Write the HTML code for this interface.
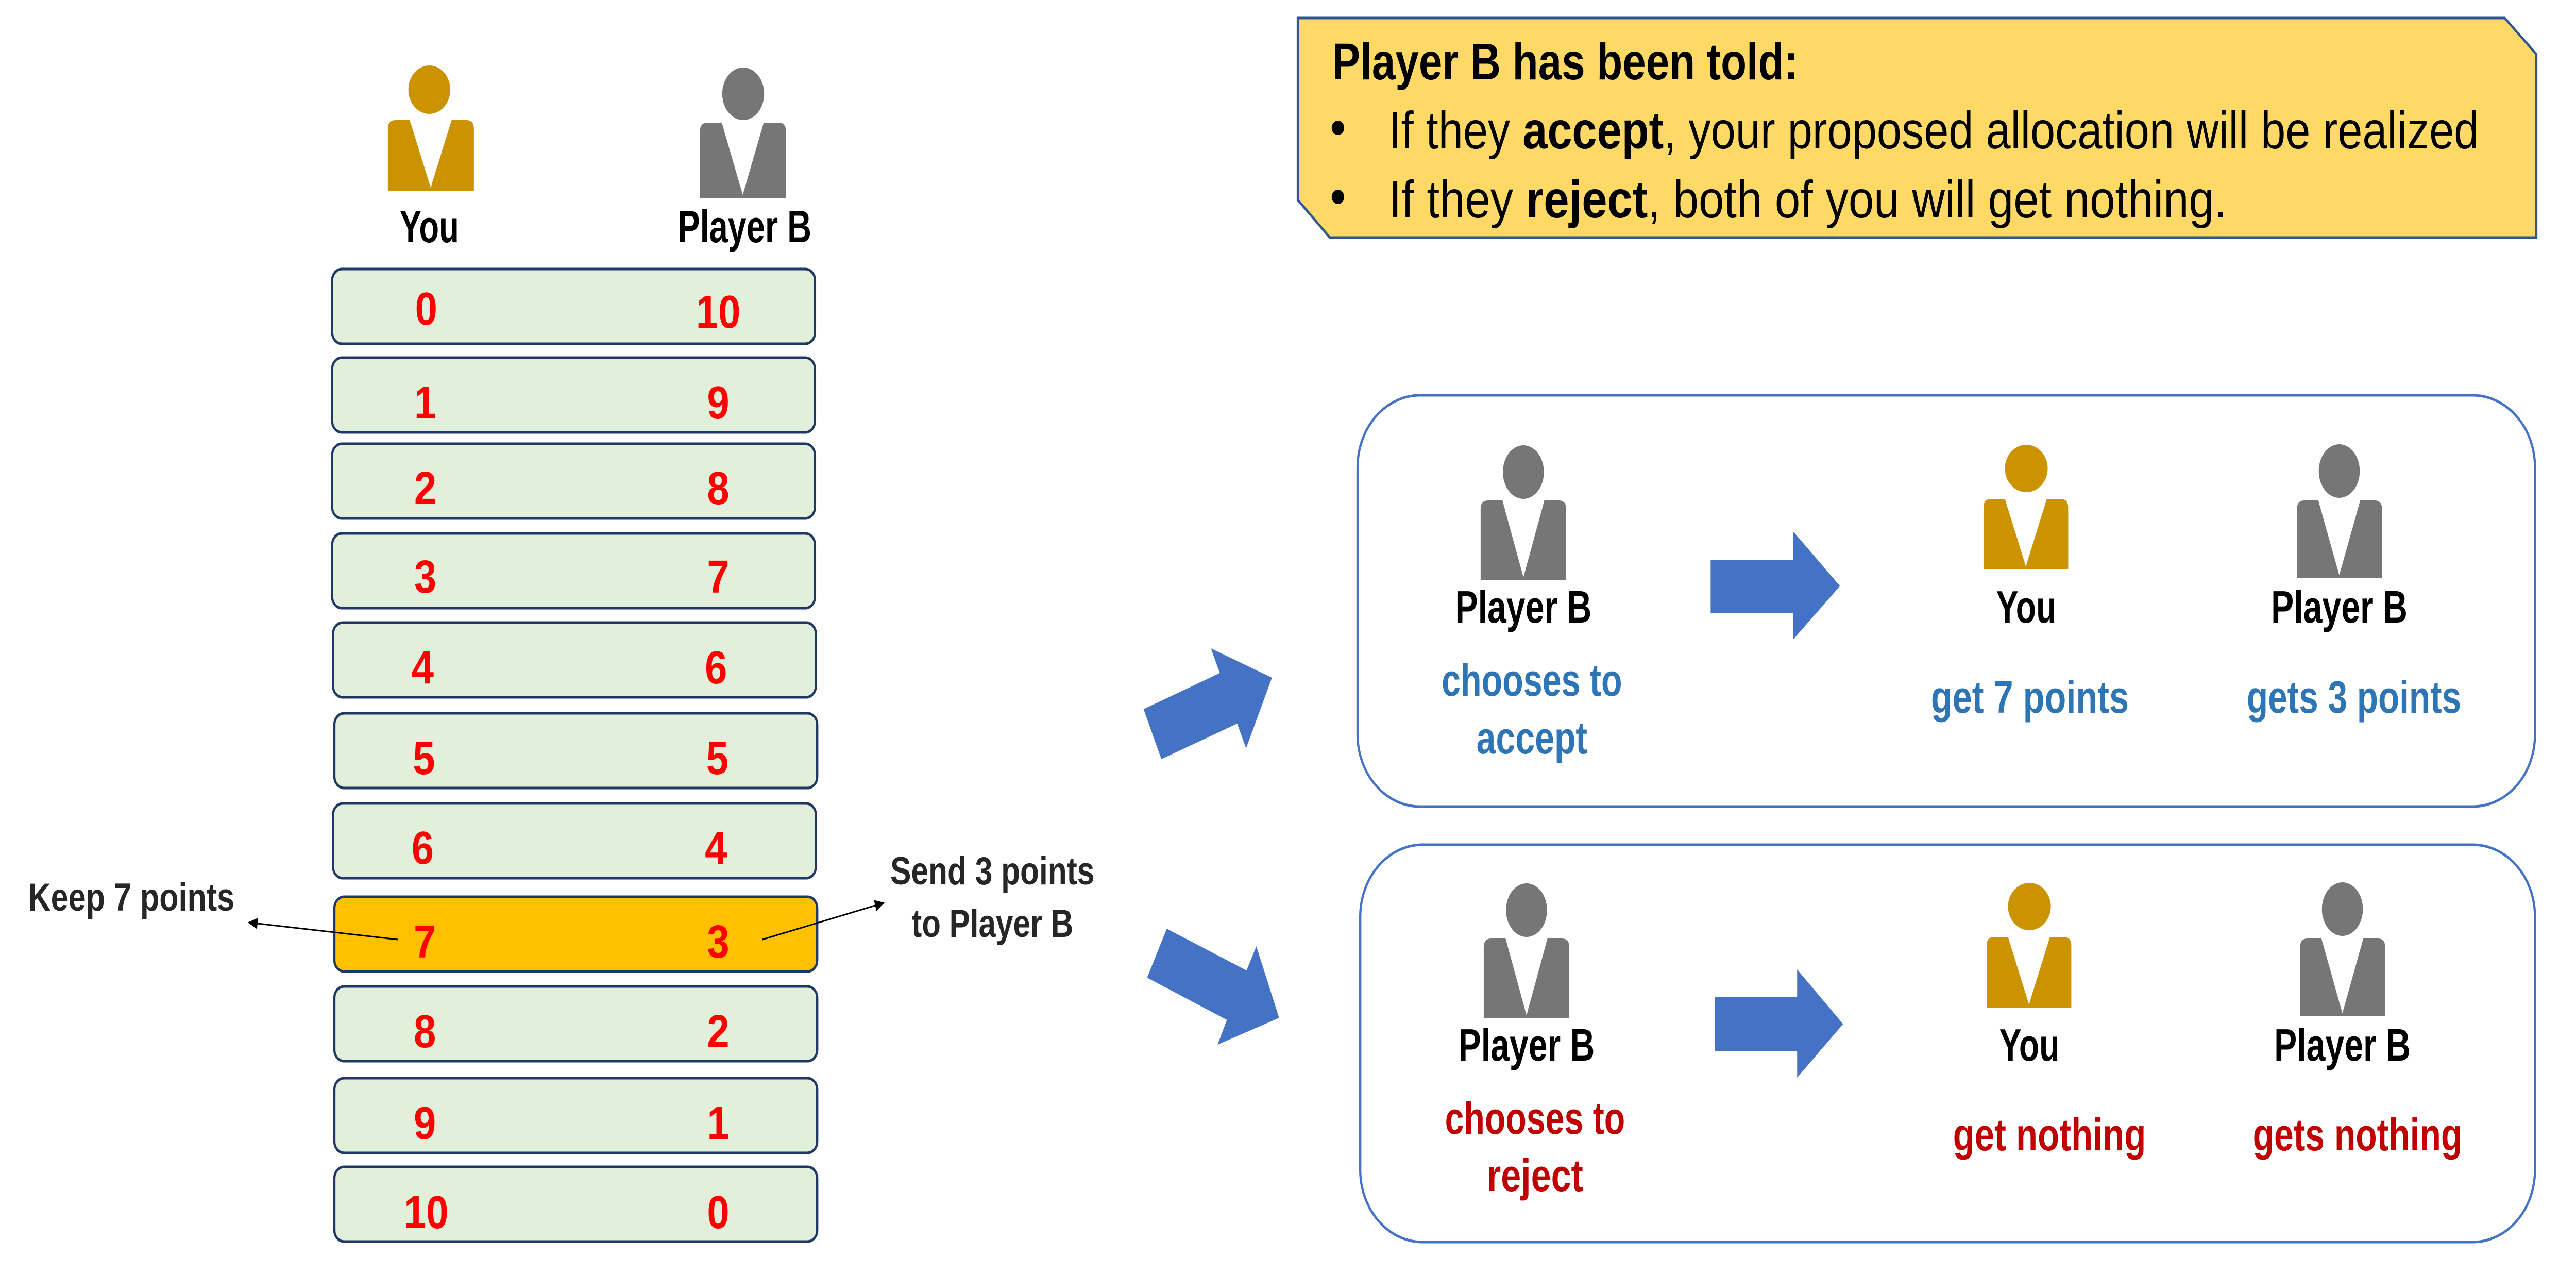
<!DOCTYPE html>
<html><head><meta charset="utf-8"><style>
html,body{margin:0;padding:0;background:#fff;width:100%;height:100%;overflow:hidden}
svg{display:block;position:absolute;left:0;top:0;width:100vw;height:100vh}
text{font-family:"Liberation Sans",sans-serif;font-weight:bold}
</style></head><body>
<svg viewBox="0 0 5778 2472" preserveAspectRatio="none" xmlns="http://www.w3.org/2000/svg">
<defs>
<marker id="ah" viewBox="0 0 10 10" refX="9" refY="5" markerWidth="22" markerHeight="22" markerUnits="userSpaceOnUse" orient="auto"><path d="M0,0 L10,5 L0,10 Z" fill="#000"/></marker>
</defs>
<rect width="5778" height="2472" fill="#fff"/>

<g fill="#CC9300">
<ellipse cx="963" cy="174" rx="47" ry="47"/>
<path d="M870,250 Q870,233 887,233 L919,233 L966,364 L1013,233 L1046,233 Q1063,233 1063,250 L1063,370 L870,370 Z"/>
</g>
<g fill="#767676">
<ellipse cx="1667" cy="182" rx="47" ry="51"/>
<path d="M1570,255 Q1570,238 1587,238 L1619,238 L1666,378 L1713,238 L1746,238 Q1763,238 1763,255 L1763,385 L1570,385 Z"/>
</g>
<text x="963" y="470" font-size="88" text-anchor="middle" textLength="133" lengthAdjust="spacingAndGlyphs">You</text>
<text x="1670" y="470" font-size="88" text-anchor="middle" textLength="300" lengthAdjust="spacingAndGlyphs">Player B</text>

<g stroke="#1F3864" stroke-width="5">
<rect x="745" y="522" width="1083" height="145" rx="22" fill="#E2EFDA"/>
<rect x="745" y="694" width="1083" height="145" rx="22" fill="#E2EFDA"/>
<rect x="745" y="861" width="1083" height="145" rx="22" fill="#E2EFDA"/>
<rect x="745" y="1035" width="1083" height="145" rx="22" fill="#E2EFDA"/>
<rect x="747" y="1208" width="1083" height="145" rx="22" fill="#E2EFDA"/>
<rect x="750" y="1384" width="1083" height="145" rx="22" fill="#E2EFDA"/>
<rect x="747" y="1559" width="1083" height="145" rx="22" fill="#E2EFDA"/>
<rect x="750" y="1740" width="1083" height="145" rx="22" fill="#FFC000"/>
<rect x="750" y="1914" width="1083" height="145" rx="22" fill="#E2EFDA"/>
<rect x="750" y="2092" width="1083" height="145" rx="22" fill="#E2EFDA"/>
<rect x="750" y="2264" width="1083" height="145" rx="22" fill="#E2EFDA"/>
</g>
<g fill="#FF0000" font-size="90" text-anchor="middle">
<text x="956" y="630">0</text><text x="1611" y="636">10</text>
<text x="954" y="812">1</text><text x="1611" y="812">9</text>
<text x="954" y="978">2</text><text x="1611" y="978">8</text>
<text x="954" y="1150">3</text><text x="1611" y="1150">7</text>
<text x="948" y="1326">4</text><text x="1606" y="1326">6</text>
<text x="951" y="1502">5</text><text x="1609" y="1502">5</text>
<text x="948" y="1676">6</text><text x="1606" y="1676">4</text>
<text x="953" y="1858">7</text><text x="1611" y="1858">3</text>
<text x="953" y="2032">8</text><text x="1611" y="2032">2</text>
<text x="953" y="2210">9</text><text x="1611" y="2210">1</text>
<text x="956" y="2383">10</text><text x="1611" y="2383">0</text>
</g>

<line x1="892" y1="1823" x2="558" y2="1790" stroke="#000" stroke-width="3" marker-end="url(#ah)"/>
<line x1="1710" y1="1823" x2="1982" y2="1752" stroke="#000" stroke-width="3" marker-end="url(#ah)"/>
<g fill="#262626" font-size="76">
<text x="63" y="1767" textLength="463" lengthAdjust="spacingAndGlyphs">Keep 7 points</text>
<text x="2226" y="1716" text-anchor="middle" textLength="458" lengthAdjust="spacingAndGlyphs">Send 3 points</text>
<text x="2226" y="1818" text-anchor="middle" textLength="363" lengthAdjust="spacingAndGlyphs">to Player B</text>
</g>

<g fill="#4472C4">
<polygon points="2565,1376 2605,1473 2775,1404 2795,1452 2853,1315 2716,1258 2736,1306"/>
<polygon points="2617,1802 2573,1897 2752,1979 2731,2027 2869,1975 2818,1836 2796,1883"/>
</g>

<polygon points="2911,35 5618,35 5689,105 5689,461 2983,461 2911,388" fill="#FFD966" stroke="#2F5597" stroke-width="5"/>
<text x="2988" y="154" font-size="100" textLength="1045" lengthAdjust="spacingAndGlyphs">Player B has been told:</text>
<circle cx="3001" cy="248" r="14" fill="#000"/>
<circle cx="3001" cy="382" r="14" fill="#000"/>
<text x="3115" y="288" font-size="102" textLength="2445" lengthAdjust="spacingAndGlyphs" style="font-weight:normal">If they <tspan font-weight="bold">accept</tspan>, your proposed allocation will be realized</text>
<text x="3115" y="422" font-size="102" textLength="1880" lengthAdjust="spacingAndGlyphs" style="font-weight:normal">If they <tspan font-weight="bold">reject</tspan>, both of you will get nothing.</text>

<rect x="3045" y="767" width="2641" height="798" rx="140" fill="#fff" stroke="#4472C4" stroke-width="5"/>
<rect x="3051" y="1639" width="2635" height="771" rx="140" fill="#fff" stroke="#4472C4" stroke-width="5"/>

<g fill="#767676">
<ellipse cx="3417" cy="916" rx="46" ry="52"/>
<path d="M3321,988 Q3321,971 3338,971 L3370,971 L3417,1120 L3464,971 L3496,971 Q3513,971 3513,988 L3513,1126 L3321,1126 Z"/>
<ellipse cx="5247" cy="914" rx="46" ry="52"/>
<path d="M5152,988 Q5152,971 5169,971 L5200,971 L5247,1116 L5294,971 L5326,971 Q5343,971 5343,988 L5343,1122 L5152,1122 Z"/>
<ellipse cx="3424" cy="1766" rx="46" ry="52"/>
<path d="M3328,1838 Q3328,1821 3345,1821 L3377,1821 L3424,1970 L3471,1821 L3503,1821 Q3520,1821 3520,1838 L3520,1976 L3328,1976 Z"/>
<ellipse cx="5254" cy="1764" rx="46" ry="52"/>
<path d="M5159,1838 Q5159,1821 5176,1821 L5207,1821 L5254,1966 L5301,1821 L5333,1821 Q5350,1821 5350,1838 L5350,1972 L5159,1972 Z"/>
</g>
<g fill="#CC9300">
<ellipse cx="4545" cy="909" rx="48" ry="46"/>
<path d="M4449,985 Q4449,968 4466,968 L4497,968 L4544,1099 L4591,968 L4622,968 Q4639,968 4639,985 L4639,1105 L4449,1105 Z"/>
<ellipse cx="4552" cy="1759" rx="48" ry="46"/>
<path d="M4456,1835 Q4456,1818 4473,1818 L4504,1818 L4551,1949 L4598,1818 L4629,1818 Q4646,1818 4646,1835 L4646,1955 L4456,1955 Z"/>
</g>
<g fill="#4472C4">
<polygon points="3837,1086 4022,1086 4022,1031 4127,1137 4022,1241 4022,1189 3837,1189"/>
<polygon points="3846,1935 4031,1935 4031,1881 4134,1987 4031,2091 4031,2039 3846,2039"/>
</g>

<g font-size="88" text-anchor="middle" fill="#000">
<text x="3417" y="1208" textLength="306" lengthAdjust="spacingAndGlyphs">Player B</text>
<text x="4545" y="1208" textLength="135" lengthAdjust="spacingAndGlyphs">You</text>
<text x="5247" y="1208" textLength="306" lengthAdjust="spacingAndGlyphs">Player B</text>
<text x="3424" y="2058" textLength="306" lengthAdjust="spacingAndGlyphs">Player B</text>
<text x="4552" y="2058" textLength="135" lengthAdjust="spacingAndGlyphs">You</text>
<text x="5254" y="2058" textLength="306" lengthAdjust="spacingAndGlyphs">Player B</text>
</g>
<g font-size="88" text-anchor="middle" fill="#2E75B6">
<text x="3436" y="1350" textLength="405" lengthAdjust="spacingAndGlyphs">chooses to</text>
<text x="3436" y="1462" textLength="249" lengthAdjust="spacingAndGlyphs">accept</text>
<text x="4553" y="1383" textLength="444" lengthAdjust="spacingAndGlyphs">get 7 points</text>
<text x="5280" y="1383" textLength="481" lengthAdjust="spacingAndGlyphs">gets 3 points</text>
</g>
<g font-size="88" text-anchor="middle" fill="#C00000">
<text x="3443" y="2200" textLength="404" lengthAdjust="spacingAndGlyphs">chooses to</text>
<text x="3443" y="2311" textLength="216" lengthAdjust="spacingAndGlyphs">reject</text>
<text x="4597" y="2232" textLength="433" lengthAdjust="spacingAndGlyphs">get nothing</text>
<text x="5288" y="2232" textLength="470" lengthAdjust="spacingAndGlyphs">gets nothing</text>
</g>
</svg>
</body></html>
